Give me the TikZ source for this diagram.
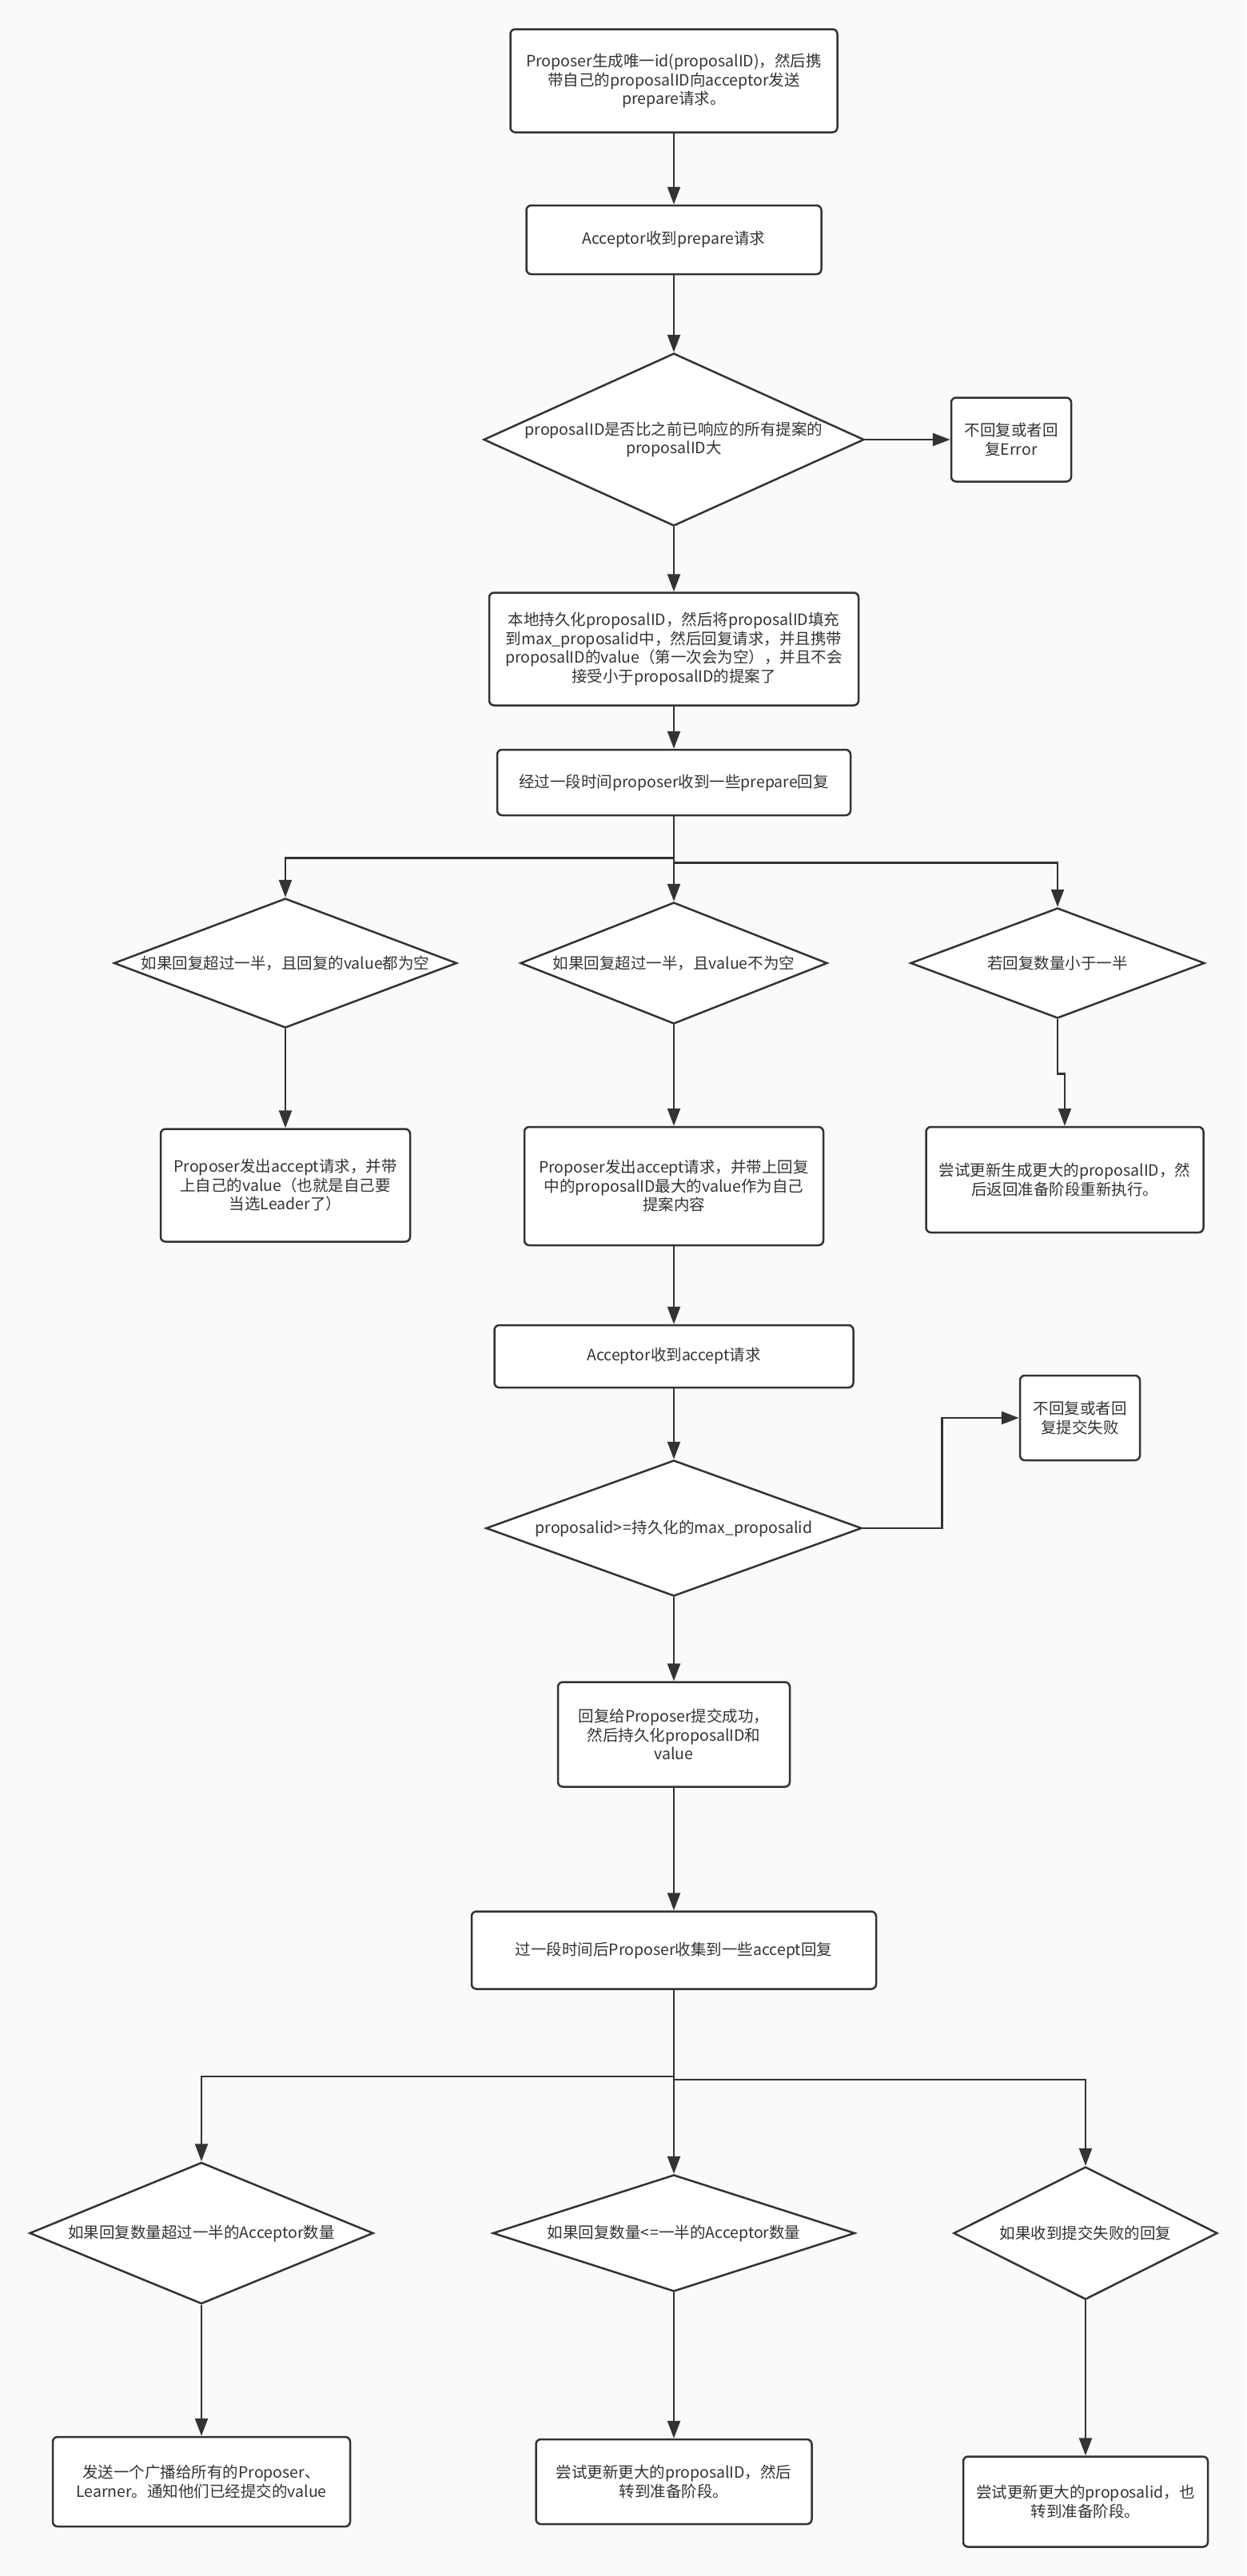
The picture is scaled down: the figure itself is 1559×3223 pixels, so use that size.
\documentclass[tikz,border=0pt]{standalone}
\usepackage{fontspec}
\setmainfont{Noto Sans CJK SC}
\usetikzlibrary{shapes.geometric,arrows.meta}
\definecolor{linec}{HTML}{333333}
\definecolor{bgc}{HTML}{FAFAFA}

\begin{document}
\begin{tikzpicture}[x=1pt,y=-1pt,every node/.style={align=center,text=linec,font=\fontsize{19.5}{23.5}\selectfont},
	box/.style 2 args={rectangle,rounded corners=6pt,draw=linec,fill=white,line width=2.5pt,inner sep=2pt,minimum width=#1,minimum height=#2},
	decision/.style 2 args={diamond,draw=linec,fill=white,line width=2.5pt,inner sep=0pt,minimum width=#1,minimum height=#2},
	flow/.style={draw=linec,line width=2.5pt,-{Triangle[length=22pt,width=16pt]}}]
	\fill[bgc] (0,0) rectangle (1559,3223);
	\node[box={409}{129}] (propose) at (843,101) {Proposer生成唯一id(proposalID)，然后携\\带自己的proposalID向acceptor发送\\prepare请求。};
	\node[box={369}{86}] (recvPrep) at (843,300) {Acceptor收到prepare请求};
	\node[decision={476}{216},label={center:proposalID是否比之前已响应的所有提案的\\proposalID大}] (chkId) at (843,550) {};
	\node[box={150}{105}] (errReply) at (1265,550) {不回复或者回\\复Error};
	\node[box={462}{141}] (persist) at (843,812) {本地持久化proposalID，然后将proposalID填充\\到max\_proposalid中，然后回复请求，并且携带\\proposalID的value（第一次会为空），并且不会\\接受小于proposalID的提案了};
	\node[box={442}{82}] (gotPrep) at (843,979) {经过一段时间proposer收到一些prepare回复};
	\node[decision={429}{162},label={center:如果回复超过一半，且回复的value都为空}] (emptyVal) at (357,1205) {};
	\node[decision={384}{152},label={center:如果回复超过一半，且value不为空}] (hasVal) at (843,1205) {};
	\node[decision={368}{138},label={center:若回复数量小于一半}] (lessHalf) at (1323,1205) {};
	\node[box={312}{141}] (sendOwn) at (357,1483) {Proposer发出accept请求，并带\\上自己的value（也就是自己要\\当选Leader了）};
	\node[box={374}{148}] (sendMax) at (843,1484) {Proposer发出accept请求，并带上回复\\中的proposalID最大的value作为自己\\提案内容};
	\node[box={347}{132}] (retryPrep) at (1332,1476) {尝试更新生成更大的proposalID，然\\后返回准备阶段重新执行。};
	\node[box={449}{78}] (recvAcc) at (843,1697) {Acceptor收到accept请求};
	\node[decision={470}{170},label={center:{proposalid>\kern1pt=持久化的max\_proposalid}}] (chkMax) at (843,1912) {};
	\node[box={150}{106}] (failReply) at (1351,1774) {不回复或者回\\复提交失败};
	\node[box={290}{131}] (okReply) at (843,2170) {回复给Proposer提交成功，\\然后持久化proposalID和\\value};
	\node[box={506}{97}] (gotAcc) at (843,2440) {过一段时间后Proposer收集到一些accept回复};
	\node[decision={430}{177},label={center:如果回复数量超过一半的Acceptor数量}] (overHalf) at (252,2794) {};
	\node[decision={453}{146},label={center:{如果回复数量<\kern1pt=一半的Acceptor数量}}] (underHalf) at (843,2794) {};
	\node[decision={330}{166},label={center:如果收到提交失败的回复}] (gotFail) at (1358,2794) {};
	\node[box={372}{112}] (broadcast) at (252,3105) {发送一个广播给所有的Proposer、\\Learner。通知他们已经提交的value};
	\node[box={345}{106}] (retryLow) at (843,3105) {尝试更新更大的proposalID，然后\\转到准备阶段。};
	\node[box={306}{113}] (retryFail) at (1358,3130) {尝试更新更大的proposalid，也\\转到准备阶段。};
	\draw[flow] (propose) -- (recvPrep);
	\draw[flow] (recvPrep) -- (chkId);
	\draw[flow] (chkId.east) -- (errReply.west);
	\draw[flow] (chkId) -- (persist);
	\draw[flow] (persist) -- (gotPrep);
	\draw[flow] (gotPrep.south) -- ++(0,52) -| (emptyVal.north);
	\draw[flow] (gotPrep) -- (hasVal);
	\draw[flow] (gotPrep.south) -- ++(0,58) -| (lessHalf.north);
	\draw[flow] (emptyVal) -- (sendOwn);
	\draw[flow] (hasVal) -- (sendMax);
	\draw[flow] (lessHalf.south) -- ++(0,68) -| (retryPrep.north);
	\draw[flow] (sendMax) -- (recvAcc);
	\draw[flow] (recvAcc) -- (chkMax);
	\draw[flow] (chkMax.east) -- ++(99,0) |- (failReply.west);
	\draw[flow] (chkMax) -- (okReply);
	\draw[flow] (okReply) -- (gotAcc);
	\draw[flow] (gotAcc.south) -- ++(0,108) -| (overHalf.north);
	\draw[flow] (gotAcc) -- (underHalf);
	\draw[flow] (gotAcc.south) -- ++(0,112) -| (gotFail.north);
	\draw[flow] (overHalf) -- (broadcast);
	\draw[flow] (underHalf) -- (retryLow);
	\draw[flow] (gotFail) -- (retryFail);
\end{tikzpicture}
\end{document}
